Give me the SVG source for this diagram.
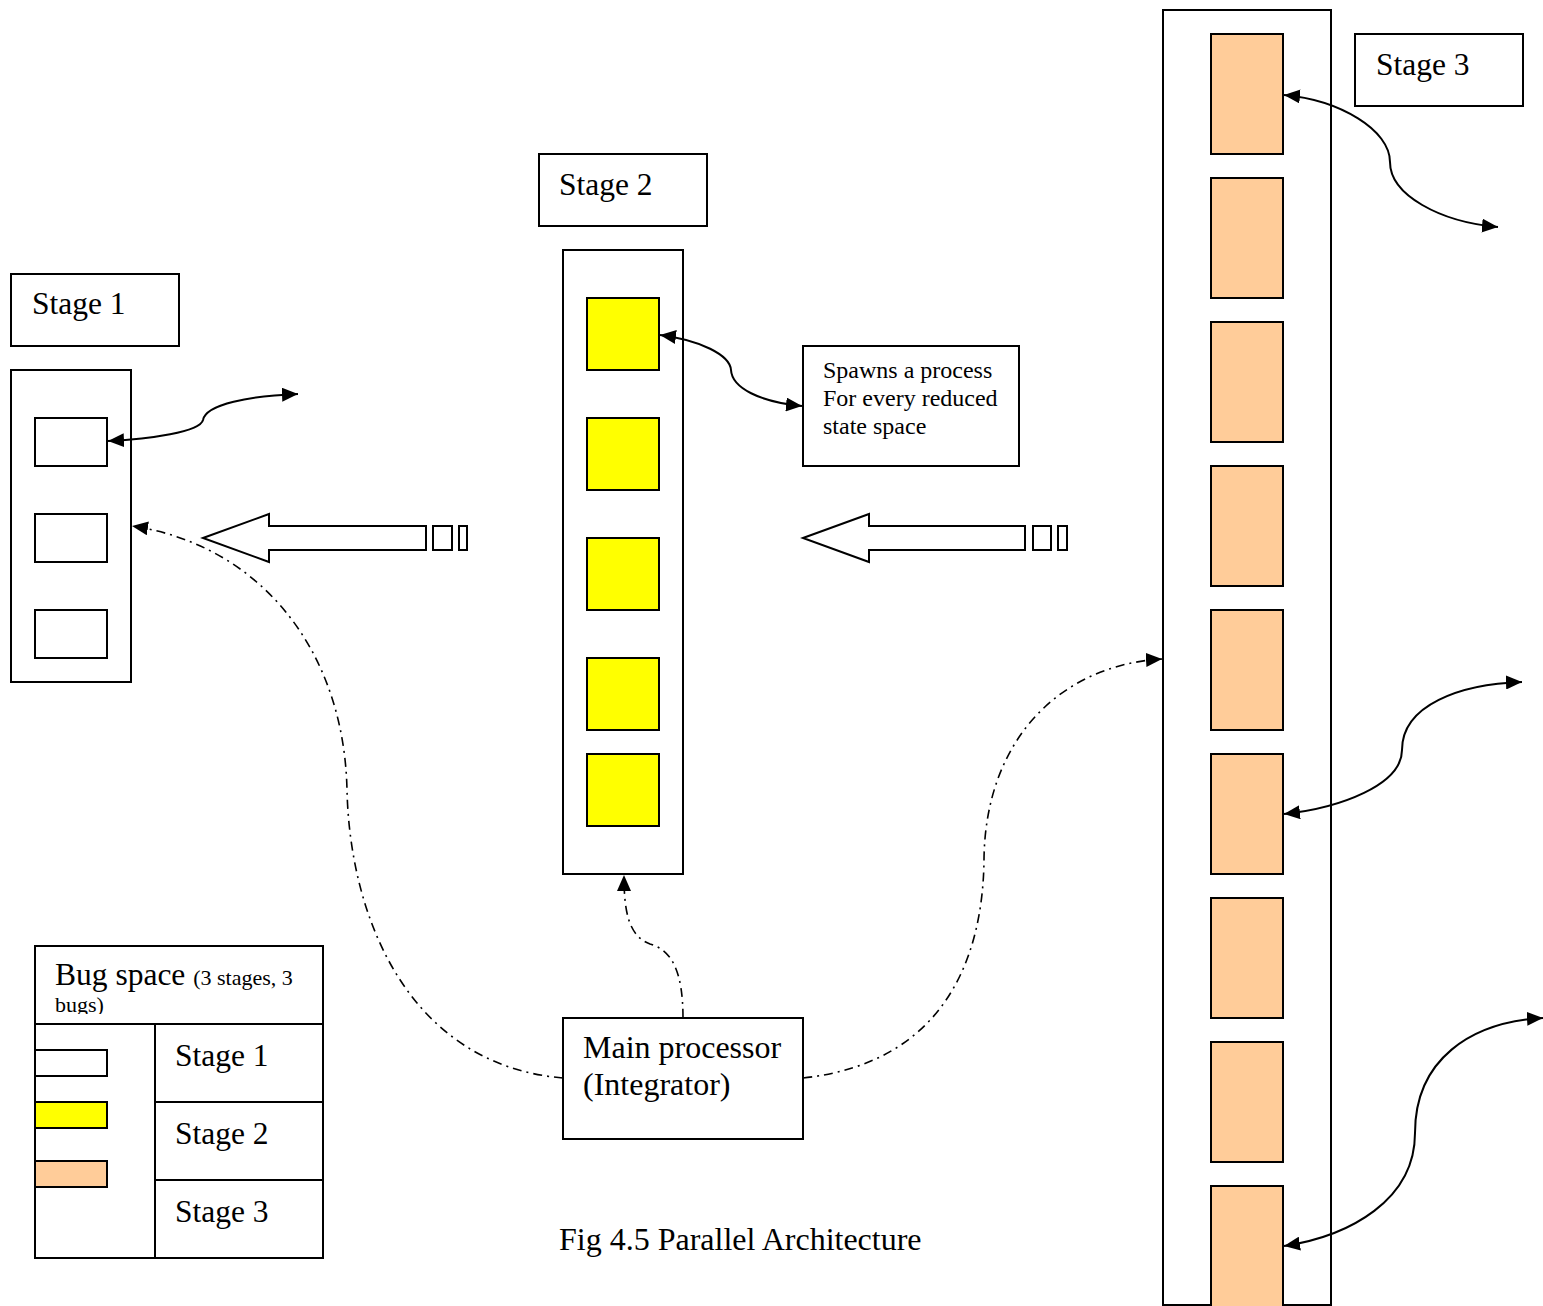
<svg xmlns="http://www.w3.org/2000/svg" width="1543" height="1306" viewBox="0 0 1543 1306">
<style>
.box{fill:#fff;stroke:#000;stroke-width:2}
.y{fill:#ffff00;stroke:#000;stroke-width:2}
.o{fill:#ffcc99;stroke:#000;stroke-width:2}
.t{font-family:"Liberation Serif","Times New Roman",serif;font-size:31.5px;fill:#000}
.s{font-family:"Liberation Serif","Times New Roman",serif;font-size:24px;fill:#000}
.c{fill:none;stroke:#000;stroke-width:2}
.d{fill:none;stroke:#000;stroke-width:1.6;stroke-dasharray:9,5,2,5}
</style>
<defs>
<marker id="ah" viewBox="0 0 16 14" refX="16" refY="7" markerWidth="16" markerHeight="14" markerUnits="userSpaceOnUse" orient="auto-start-reverse">
<path d="M0,0 L16,7 L0,14 z" fill="#000"/>
</marker>
<clipPath id="hdr"><rect x="35" y="946" width="288" height="68"/></clipPath>
</defs>
<rect width="1543" height="1306" fill="#fff"/>

<g id="stage1-label"><rect class="box" x="11" y="274" width="168" height="72"/><text class="t" x="32" y="314">Stage 1</text></g>
<g id="stage1"><rect class="box" x="11" y="370" width="120" height="312"/>
<rect class="box" x="35" y="418" width="72" height="48"/>
<rect class="box" x="35" y="514" width="72" height="48"/>
<rect class="box" x="35" y="610" width="72" height="48"/></g>

<g id="stage2-label"><rect class="box" x="539" y="154" width="168" height="72"/><text class="t" x="559" y="195">Stage 2</text></g>
<g id="stage2"><rect class="box" x="563" y="250" width="120" height="624"/>
<rect class="y" x="587" y="298" width="72" height="72"/>
<rect class="y" x="587" y="418" width="72" height="72"/>
<rect class="y" x="587" y="538" width="72" height="72"/>
<rect class="y" x="587" y="658" width="72" height="72"/>
<rect class="y" x="587" y="754" width="72" height="72"/></g>

<g id="spawn"><rect class="box" x="803" y="346" width="216" height="120"/>
<text class="s" x="823" y="378">Spawns a process</text>
<text class="s" x="823" y="406">For every reduced</text>
<text class="s" x="823" y="434">state space</text></g>

<g id="stage3-label"><rect class="box" x="1355" y="34" width="168" height="72"/><text class="t" x="1376" y="75">Stage 3</text></g>
<g id="stage3"><rect class="box" x="1163" y="10" width="168" height="1295"/>
<rect class="o" x="1211" y="34" width="72" height="120"/>
<rect class="o" x="1211" y="178" width="72" height="120"/>
<rect class="o" x="1211" y="322" width="72" height="120"/>
<rect class="o" x="1211" y="466" width="72" height="120"/>
<rect class="o" x="1211" y="610" width="72" height="120"/>
<rect class="o" x="1211" y="754" width="72" height="120"/>
<rect class="o" x="1211" y="898" width="72" height="120"/>
<rect class="o" x="1211" y="1042" width="72" height="120"/>
<rect class="o" x="1211" y="1186" width="72" height="121"/></g>

<g id="block-arrow-1">
<path class="box" d="M203,538 L269,514 L269,526 L426,526 L426,550 L269,550 L269,562 Z"/>
<rect class="box" x="433" y="526" width="19" height="24"/>
<rect class="box" x="459" y="526" width="8" height="24"/></g>
<g id="block-arrow-2">
<path class="box" d="M803,538 L869,514 L869,526 L1025,526 L1025,550 L869,550 L869,562 Z"/>
<rect class="box" x="1033" y="526" width="18" height="24"/>
<rect class="box" x="1058" y="526" width="9" height="24"/></g>

<g id="main"><rect class="box" x="563" y="1018" width="240" height="121"/>
<text class="t" x="583" y="1058" style="font-size:32px">Main processor</text>
<text class="t" x="583" y="1095" style="font-size:32px">(Integrator)</text></g>

<g id="legend">
<rect class="box" x="35" y="946" width="288" height="312"/>
<g clip-path="url(#hdr)"><text class="t" x="55" y="985">Bug space <tspan style="font-size:22px">(3 stages, 3</tspan></text>
<text class="s" x="55" y="1012" style="font-size:22px">bugs)</text></g>
<line class="c" x1="35" y1="1024" x2="323" y2="1024"/>
<line class="c" x1="155" y1="1024" x2="155" y2="1258"/>
<line class="c" x1="155" y1="1102" x2="323" y2="1102"/>
<line class="c" x1="155" y1="1180" x2="323" y2="1180"/>
<rect class="box" x="35" y="1050" width="72" height="26"/>
<rect class="y" x="35" y="1102" width="72" height="26"/>
<rect class="o" x="35" y="1161" width="72" height="26"/>
<text class="t" x="175" y="1066">Stage 1</text>
<text class="t" x="175" y="1144">Stage 2</text>
<text class="t" x="175" y="1222">Stage 3</text></g>

<g id="caption"><text class="t" x="559" y="1250" style="font-size:32px">Fig 4.5 Parallel Architecture</text></g>

<g id="connectors">
<path class="c" marker-start="url(#ah)" marker-end="url(#ah)" d="M108,441 C150,439 200,432 203,420 C206,404 250,396 298,394"/>
<path class="c" marker-start="url(#ah)" marker-end="url(#ah)" d="M660,335 C700,340 730,355 731,370 C732,388 760,402 802,406"/>
<path class="c" marker-start="url(#ah)" marker-end="url(#ah)" d="M1284,95 C1340,100 1390,130 1390,162 C1390,195 1440,222 1498,227"/>
<path class="c" marker-start="url(#ah)" marker-end="url(#ah)" d="M1284,814 C1340,808 1402,785 1402,750 C1402,705 1460,684 1522,682"/>
<path class="c" marker-start="url(#ah)" marker-end="url(#ah)" d="M1284,1246 C1350,1236 1415,1200 1415,1133 C1415,1060 1470,1022 1543,1018"/>
<path class="d" marker-end="url(#ah)" d="M563,1078 C410,1065 350,920 347,790 C344,650 260,545 132,526"/>
<path class="d" marker-end="url(#ah)" d="M803,1078 C950,1062 983,950 984,860 C985,740 1060,665 1162,659"/>
<path class="d" marker-end="url(#ah)" d="M683,1018 C683,972 672,950 650,944 C628,936 624,910 624,875"/>
</g>
</svg>
